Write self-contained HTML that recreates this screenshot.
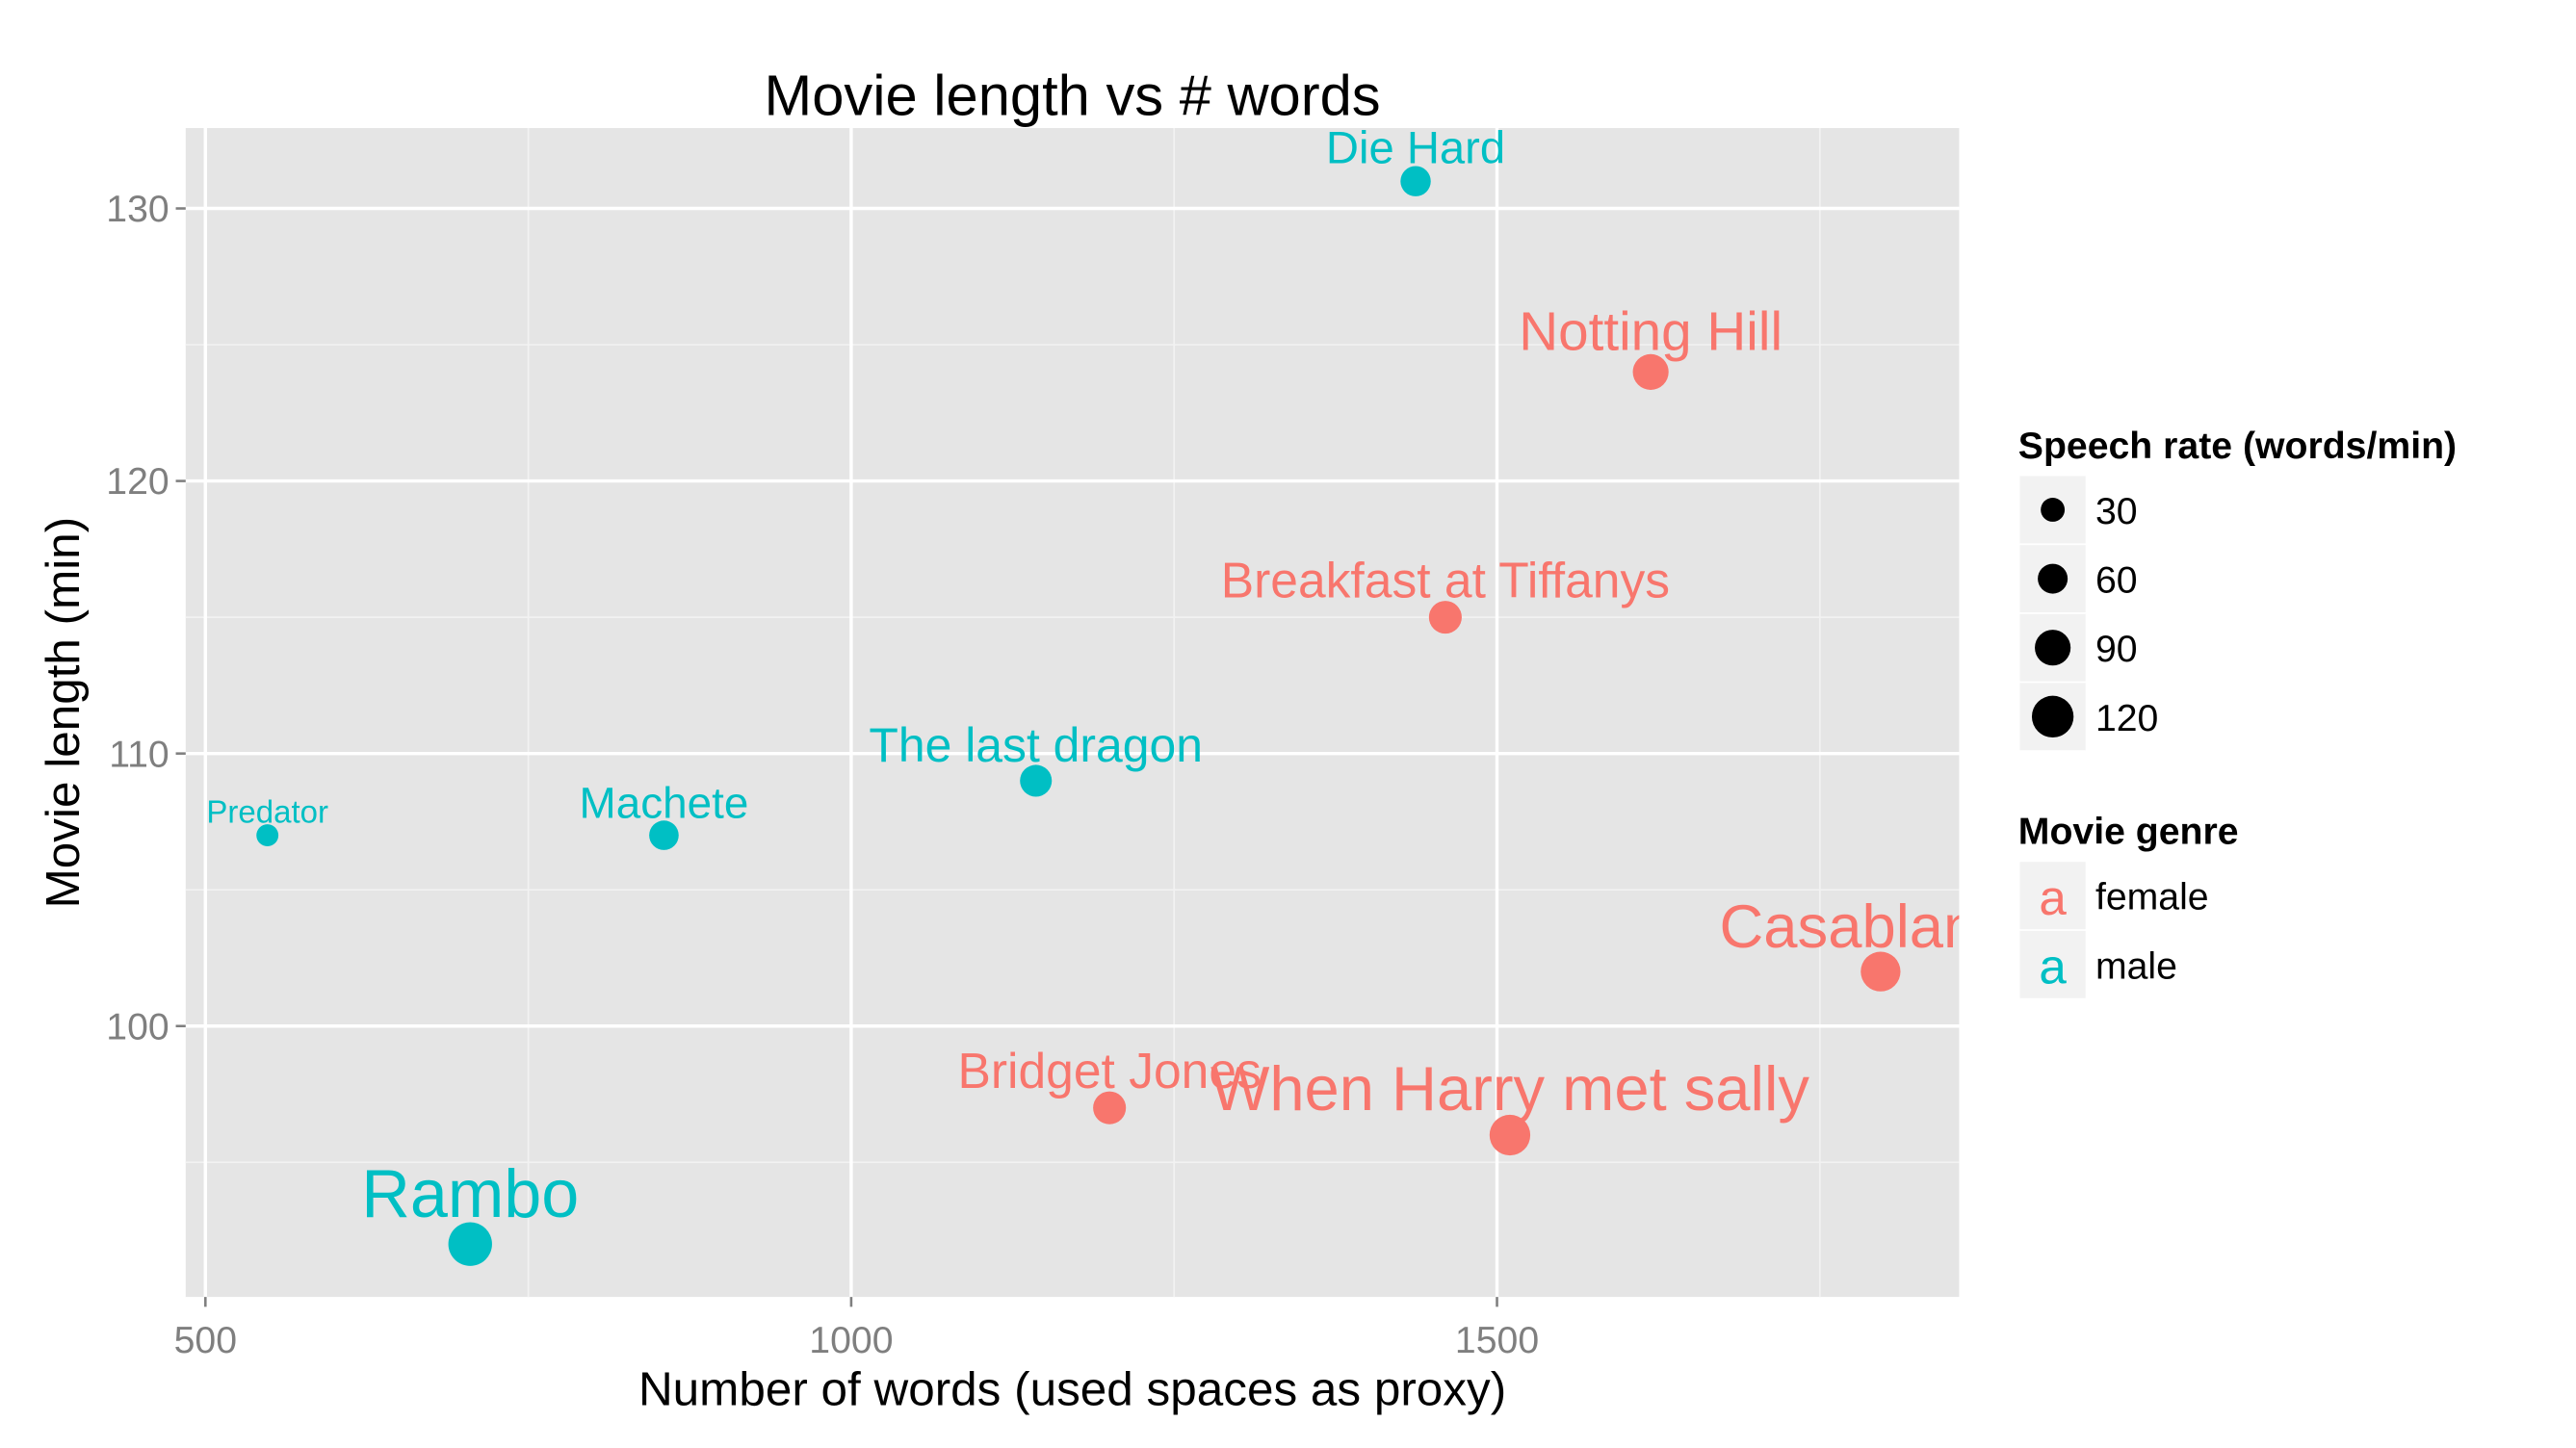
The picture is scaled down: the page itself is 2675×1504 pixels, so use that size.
<!DOCTYPE html>
<html><head><meta charset="utf-8"><style>html,body{margin:0;padding:0;background:#fff}svg{display:block}text{font-family:"Liberation Sans",Arial,sans-serif}</style></head>
<body>
<svg id="chart" width="2675" height="1504" viewBox="0 0 1568.6 882" xmlns="http://www.w3.org/2000/svg">
<defs><clipPath id="pc"><rect x="113" y="78" width="1080" height="712"/></clipPath></defs>
<rect width="1568.6" height="882" fill="#fff"/>
<text x="653" y="70" font-size="35" text-anchor="middle">Movie length vs # words</text>
<rect x="113" y="78" width="1080" height="712" fill="#E5E5E5"/>
<g id="grid"></g>
<g id="marks" clip-path="url(#pc)"></g>
<g id="axes"></g>
<text x="653" y="856" font-size="29" text-anchor="middle">Number of words (used spaces as proxy)</text>
<text transform="translate(48,434) rotate(-90)" font-size="29" text-anchor="middle">Movie length (min)</text>
<g>
<text x="1229" y="279" font-size="23" font-weight="bold">Speech rate (words/min)</text>
<g id="sizeleg"></g>
</g>
<g>
<text x="1229" y="514" font-size="23" font-weight="bold">Movie genre</text>
<g id="genreleg"></g>
</g>
</svg>
<script>
const titles=["Predator","Machete","The last dragon","Die Hard","Rambo","Bridget Jones","Breakfast at Tiffanys","Notting Hill","When Harry met sally","Casablanca"];
const words=[548,855,1143,1437,705,1200,1460,1619,1510,1797];
const lengths=[107,107,109,131,92,97,115,124,96,102];
const rates=[20,58,70,62,130,75,75,90,115,110];
const genres=["male","male","male","male","male","female","female","female","female","female"];
const xTicks=[500,1000,1500];
const xMinor=[750,1250,1750];
const yTicks=[100,110,120,130];
const yMinor=[95,105,115,125];
const legendRates=[30,60,90,120];
const genreNames=["female","male"];
const colors={female:"#F8766D",male:"#00BFC4"};
const NS="http://www.w3.org/2000/svg";
const X0=113,X1=1193,Y0=78,Y1=790;
const xmin=484.7,xmax=1857.8,ymin=90.06,ymax=132.95;
function sx(v){return X0+(v-xmin)/(xmax-xmin)*(X1-X0);}
function sy(v){return Y1-(v-ymin)/(ymax-ymin)*(Y1-Y0);}
function rr(r){return 5.5+0.06*r;}
function fs(r){return 1.1*(14+0.18*r);}
function mk(tag,attrs,parent){const e=document.createElementNS(NS,tag);for(const k in attrs)e.setAttribute(k,attrs[k]);parent.appendChild(e);return e;}
const grid=document.getElementById('grid'),axes=document.getElementById('axes'),marks=document.getElementById('marks');
xMinor.forEach(v=>{const l=mk('line',{x1:sx(v),x2:sx(v),y1:Y0,y2:Y1,stroke:'#F2F2F2','stroke-width':1},grid);

});
yMinor.forEach(v=>{const l=mk('line',{x1:X0,x2:X1,y1:sy(v),y2:sy(v),stroke:'#F2F2F2','stroke-width':1},grid);

});
xTicks.forEach(v=>{const l=mk('line',{x1:sx(v),x2:sx(v),y1:Y0,y2:Y1,stroke:'#fff','stroke-width':2},grid);


const t=mk('line',{x1:sx(v),x2:sx(v),y1:Y1,y2:Y1+6,stroke:'#7F7F7F','stroke-width':1.5},axes);


const tx=mk('text',{x:sx(v),y:Y1+34,'font-size':23,'text-anchor':'middle',fill:'#7F7F7F'},axes);tx.textContent=v;

});
yTicks.forEach(v=>{const l=mk('line',{x1:X0,x2:X1,y1:sy(v),y2:sy(v),stroke:'#fff','stroke-width':2},grid);


const t=mk('line',{x1:X0-6,x2:X0,y1:sy(v),y2:sy(v),stroke:'#7F7F7F','stroke-width':1.5},axes);


const tx=mk('text',{x:X0-10,y:sy(v)+8,'font-size':23,'text-anchor':'end',fill:'#7F7F7F'},axes);tx.textContent=v;

});
titles.forEach((t,i)=>{const cx=sx(words[i]),cy=sy(lengths[i]),c=colors[genres[i]];
const p=mk('circle',{cx:cx,cy:cy,r:rr(rates[i]),fill:c},marks);


const f=fs(rates[i]);
const tx=mk('text',{x:cx,y:cy-0.4*f,'font-size':f,'text-anchor':'middle',fill:c},marks);tx.textContent=t;

});
const sl=document.getElementById('sizeleg');
legendRates.forEach((r,i)=>{const y=290+i*42;
const k=mk('rect',{x:1230,y:y,width:40,height:41,fill:'#F2F2F2'},sl);


const c=mk('circle',{cx:1250,cy:y+20.5,r:rr(r),fill:'#000'},sl);


const t=mk('text',{x:1276,y:y+29,'font-size':23},sl);t.textContent=r;

});
const gl=document.getElementById('genreleg');
genreNames.forEach((g,i)=>{const y=525+i*42;
const k=mk('rect',{x:1230,y:y,width:40,height:41,fill:'#F2F2F2'},gl);


const a=mk('text',{x:1250,y:y+32,'font-size':30,'text-anchor':'middle',fill:colors[g]},gl);a.textContent='a';


const t=mk('text',{x:1276,y:y+29,'font-size':23},gl);t.textContent=g;

});
</script>
</body></html>
